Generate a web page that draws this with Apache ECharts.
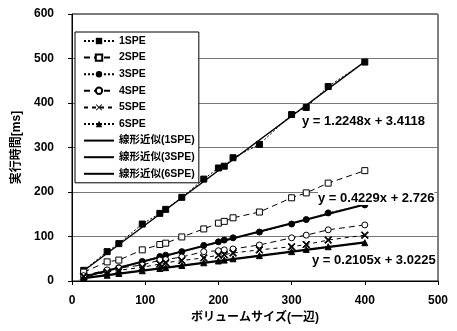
<!DOCTYPE html>
<html><head><meta charset="utf-8">
<script src="https://cdn.jsdelivr.net/npm/echarts@6/dist/echarts.min.js"></script>
<style>html,body{margin:0;padding:0;background:#fff}#c{width:457px;height:331px}</style>
</head><body><div id="c"></div>
<script>
const sizes = [16, 48, 64, 96, 120, 128, 150, 180, 200, 208, 220, 256, 300, 320, 350, 400];
const spe1 = [24, 66, 84, 128, 152, 161, 188, 229, 254, 258, 277, 307, 374, 390, 437, 492];
const spe2 = [20, 43, 47, 70, 82, 85, 99, 117, 130, 134, 142, 155, 187, 198, 220, 248];
const spe3 = [9, 23, 30, 44, 55, 58, 66, 80, 88, 92, 97, 110, 128, 138, 153, 171];
const spe4 = [12, 25, 29, 36, 47, 48, 54, 66, 68, 70, 72, 81, 97, 103, 115, 126];
const spe5 = [10, 20, 24, 31, 38, 41, 46, 52, 58, 59, 63, 70, 77, 82, 92, 103];
const spe6 = [7, 13, 17, 23, 28, 30, 35, 41, 45, 47, 50, 57, 66, 71, 77, 86];
const trend1 = [[16, 23], [400, 493]];
const trend3 = [[16, 9.5], [400, 172]];
const trend6 = [[16, 6.4], [400, 87]];
const seriesNames = ['1SPE', '2SPE', '3SPE', '4SPE', '5SPE', '6SPE', '線形近似(1SPE)', '線形近似(3SPE)', '線形近似(6SPE)'];
const equations = ['y = 1.2248x + 3.4118', 'y = 0.4229x + 2.726', 'y = 0.2105x + 3.0225'];
const xTicks = [0, 500, 100];
const yTicks = [0, 600, 100];
const xName = 'ボリュームサイズ(一辺)';
const yName = '実行時間[ms]';

const FONT = '"Liberation Sans", Arial, "Noto Sans CJK JP", sans-serif';
const cross = 'path://M0,1L1,0L5,4L9,0L10,1L6,5L10,9L9,10L5,6L1,10L0,9L4,5Z';
const pair = (ys) => sizes.map((x, i) => [x, ys[i]]);

function dataSeries(name, ys, symbol, filled, dash, size) {
  return {
    name, type: 'line', data: pair(ys), symbol, symbolSize: size,
    lineStyle: { color: '#000', width: 1, type: dash },
    itemStyle: filled ? { color: '#000', borderColor: '#000' } : { color: '#fff', borderColor: '#000', borderWidth: 1 },
    z: 3, animation: false
  };
}
function trendSeries(name, pts, w) {
  return { name, type: 'line', data: pts, symbol: 'circle', showSymbol: false, symbolSize: 0,
    lineStyle: { color: '#000', width: w, type: 'solid' },
    itemStyle: { color: 'rgba(0,0,0,0)', borderColor: 'rgba(0,0,0,0)', borderWidth: 0 }, z: 2, animation: false };
}

const chart = echarts.init(document.getElementById('c'), null, { renderer: 'canvas' });
chart.setOption({
  backgroundColor: '#fff',
  animation: false,
  grid: { left: 72, right: 19, top: 14, bottom: 50, show: true, borderColor: '#000', borderWidth: 1, backgroundColor: 'transparent' },
  xAxis: {
    type: 'value', min: xTicks[0], max: xTicks[1], interval: xTicks[2],
    name: xName, nameLocation: 'middle', nameGap: 31,
    nameTextStyle: { fontFamily: FONT, fontSize: 12, fontWeight: 'bold', color: '#000' },
    axisLine: { lineStyle: { color: '#000', width: 1 } },
    axisTick: { show: true, length: 4, lineStyle: { color: '#000' } },
    axisLabel: { fontFamily: FONT, fontSize: 12, fontWeight: 'bold', color: '#000', margin: 14 },
    splitLine: { show: false }
  },
  yAxis: {
    type: 'value', min: yTicks[0], max: yTicks[1], interval: yTicks[2],
    name: yName, nameLocation: 'middle', nameGap: 48, nameRotate: 90,
    nameTextStyle: { fontFamily: FONT, fontSize: 12, fontWeight: 'bold', color: '#000' },
    axisLine: { show: true, lineStyle: { color: '#000', width: 1 } },
    axisTick: { show: true, length: 4, lineStyle: { color: '#000' } },
    axisLabel: { fontFamily: FONT, fontSize: 12, fontWeight: 'bold', color: '#000', margin: 18 },
    splitLine: { show: true, lineStyle: { color: '#777', width: 1 } }
  },
  legend: {
    orient: 'vertical', left: 75, top: 32, data: seriesNames,
    backgroundColor: '#fff', borderColor: '#000', borderWidth: 1,
    padding: [3, 4, 3, 8], itemGap: 4.6, itemWidth: 30, itemHeight: 8,
    textStyle: { fontFamily: FONT, fontSize: 10.5, fontWeight: 'bold', color: '#000', lineHeight: 12 }
  },
  series: [
    dataSeries(seriesNames[0], spe1, 'rect', true, [2, 2], 6),
    dataSeries(seriesNames[1], spe2, 'rect', false, [6, 4], 6),
    dataSeries(seriesNames[2], spe3, 'circle', true, [2, 2], 6),
    dataSeries(seriesNames[3], spe4, 'circle', false, [6, 4], 6),
    dataSeries(seriesNames[4], spe5, cross, true, [4, 4], 7),
    dataSeries(seriesNames[5], spe6, 'triangle', true, [2, 2], 6),
    trendSeries(seriesNames[6], trend1, 1.3),
    trendSeries(seriesNames[7], trend3, 2.2),
    trendSeries(seriesNames[8], trend6, 2.2)
  ],
  graphic: [
    { type: 'text', left: 302, top: 115, style: { text: equations[0], font: 'bold 13px ' + FONT, fill: '#000', backgroundColor: '#fff' }, z: 10 },
    { type: 'text', left: 318, top: 192, style: { text: equations[1], font: 'bold 13px ' + FONT, fill: '#000', backgroundColor: '#fff' }, z: 10 },
    { type: 'text', left: 312, top: 254, style: { text: equations[2], font: 'bold 13px ' + FONT, fill: '#000', backgroundColor: '#fff' }, z: 10 }
  ]
});
</script></body></html>
